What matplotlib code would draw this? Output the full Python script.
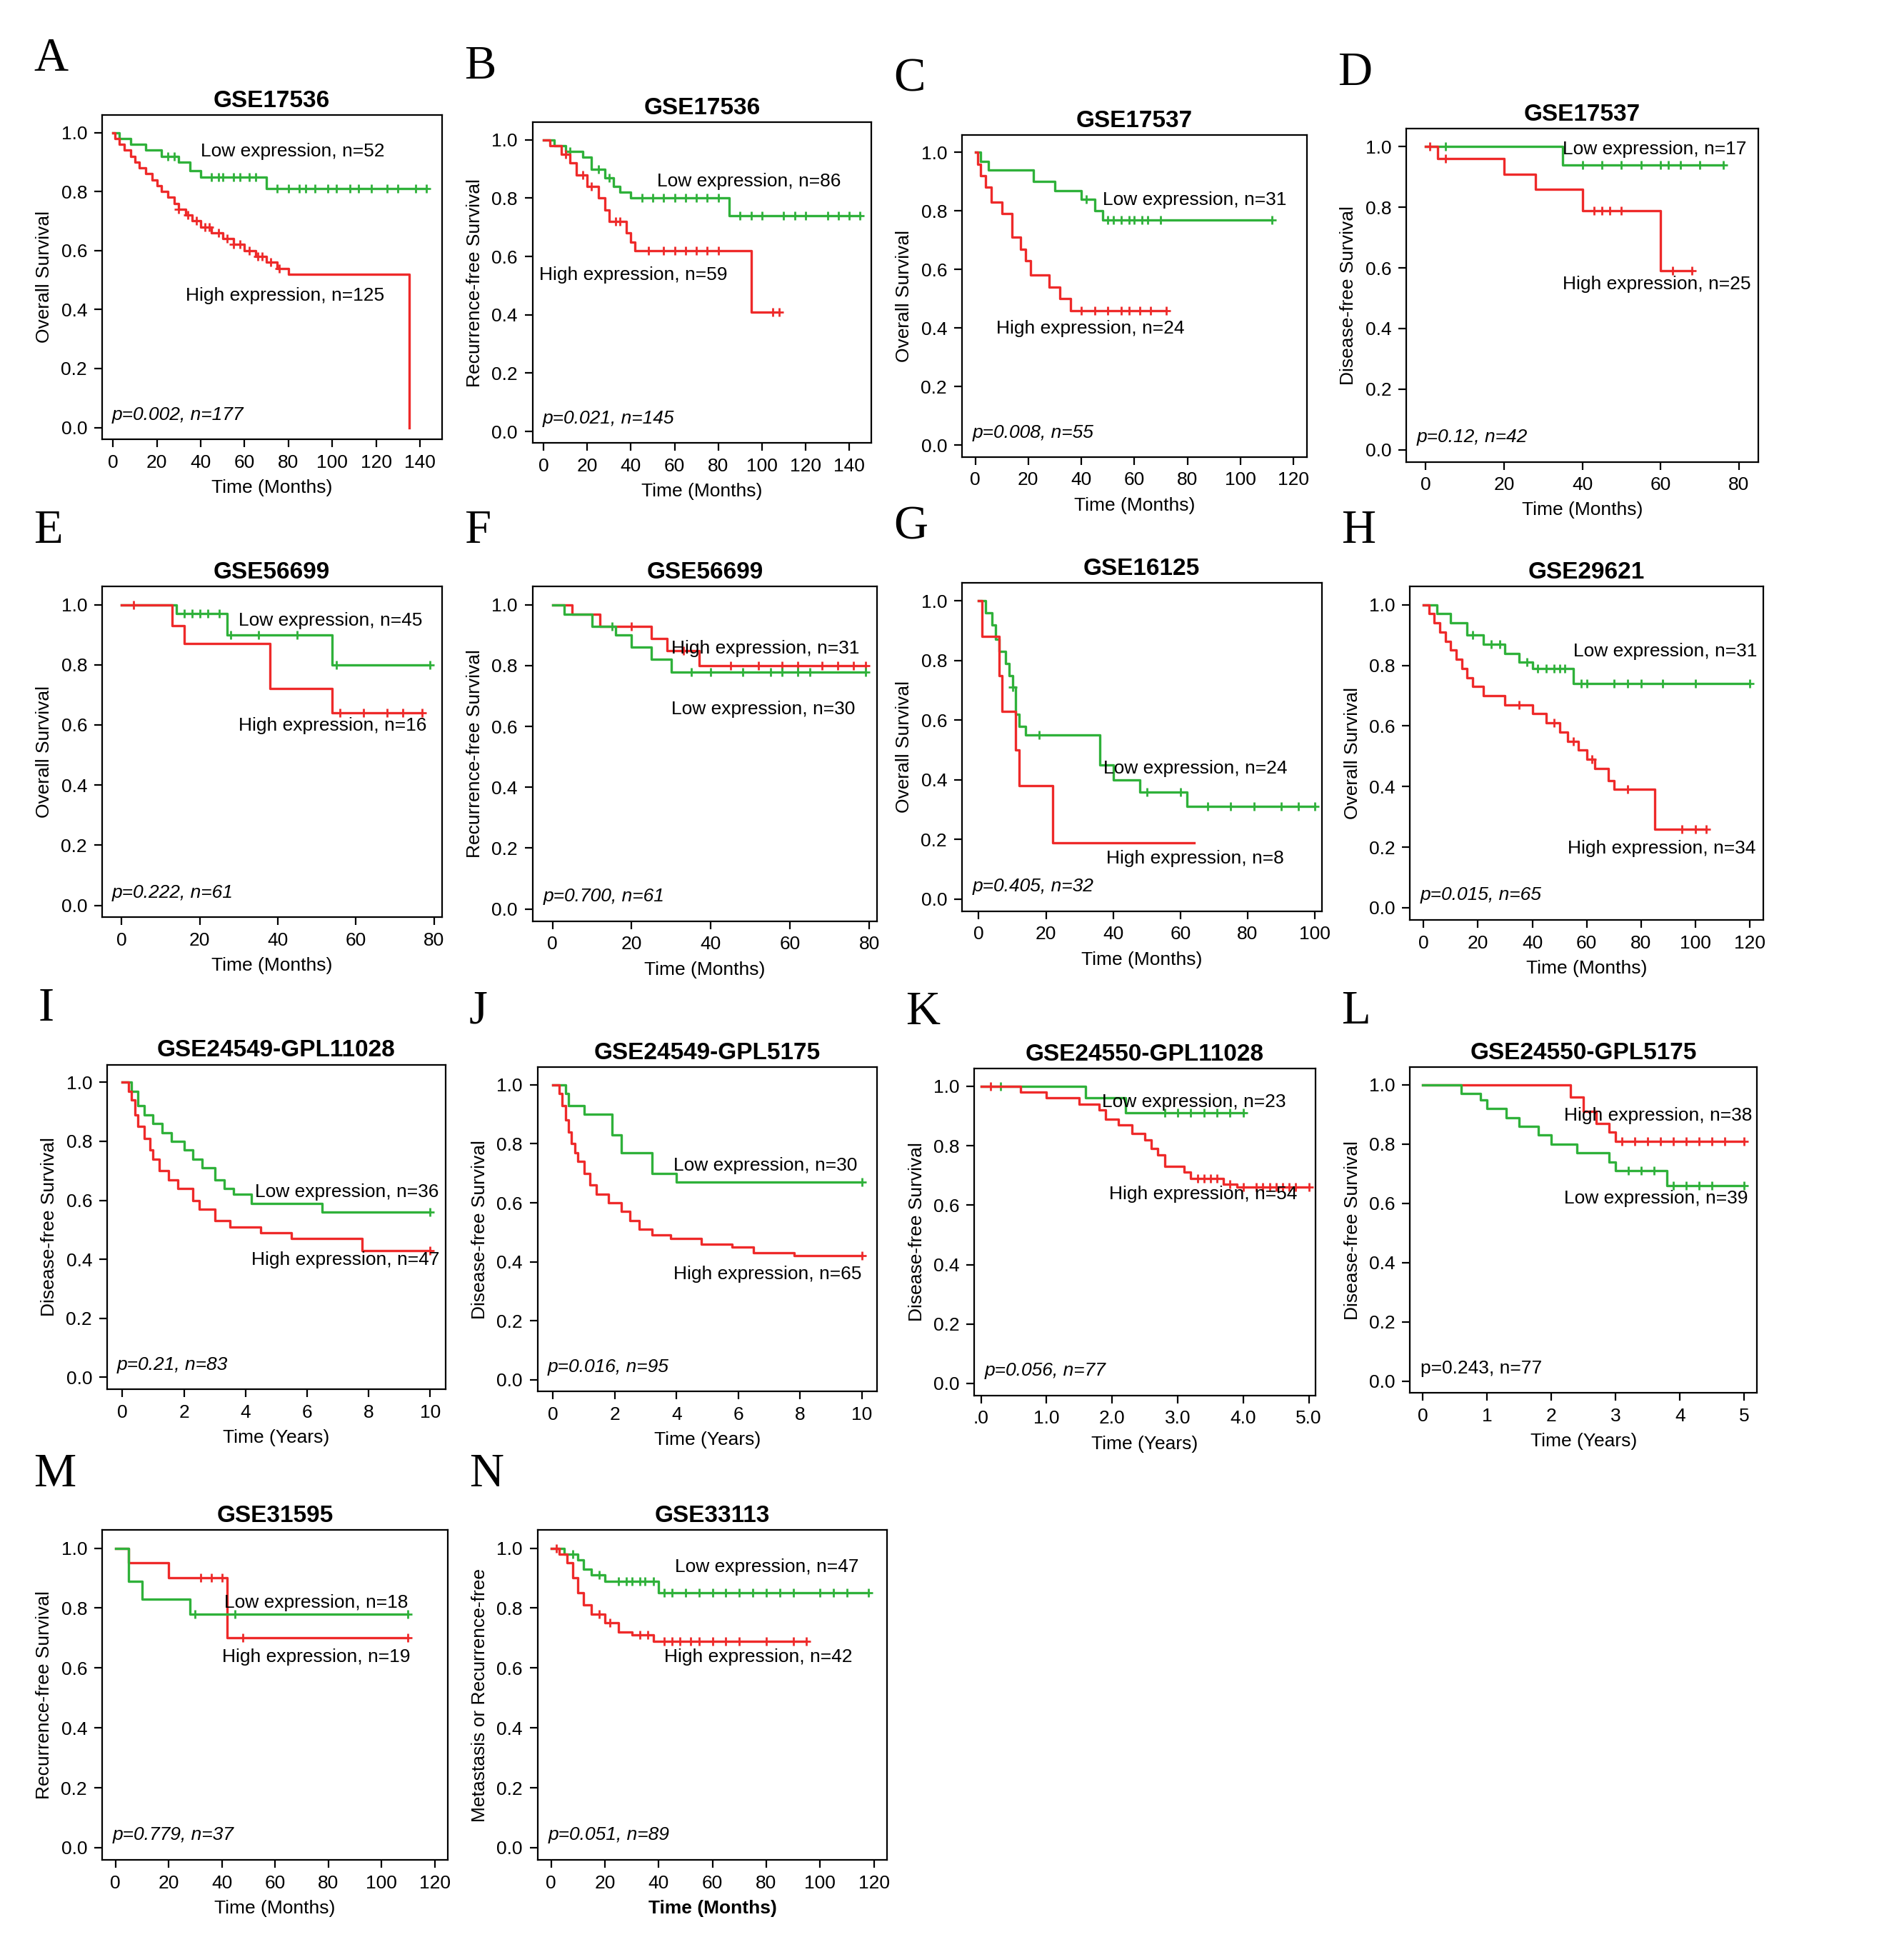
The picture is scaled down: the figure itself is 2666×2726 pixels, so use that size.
import numpy as np
import matplotlib
matplotlib.use('Agg')
from matplotlib import pyplot as plt

plt.rcParams['font.family'] = ['Liberation Sans', 'DejaVu Sans']

GREEN = '#2fb13a'
RED = '#ee2a2a'
W, H = 1530., 1560.

# each panel: letter, title, box (display px), xlim, xticks, xlabel, ylabel, ptext
# curves: (color, times, survival after each drop, end time, censor times, label, label xy)
panels = [
 dict(letter='A', title='GSE17536', box=(82,92,355,352), xlim=(-5,150), xticks=range(0,141,20),
      xlabel='Time (Months)', ylabel='Overall Survival', p='p=0.002, n=177',
      curves=[(GREEN,[3,8,15,22,30,35,40,70],[.98,.96,.94,.92,.9,.87,.85,.81],143,
               [25,28,45,48,50,55,58,62,65,75,80,85,88,92,98,102,108,112,118,125,130,138,143],'Low expression, n=52',(40,.92)),
              (RED,[1,3,5,8,10,12,15,18,20,22,25,28,30,33,36,40,45,50,55,60,65,70,75,80,135],
               [.98,.96,.94,.92,.9,.88,.86,.84,.82,.8,.78,.76,.74,.72,.7,.68,.66,.64,.62,.6,.58,.56,.54,.52,0],135,
               [30,34,38,42,44,48,52,55,58,62,66,68,72,76],'High expression, n=125',(33,.43))]),
 dict(letter='B', title='GSE17536', box=(428,98,700,355), xlim=(-5,150), xticks=range(0,141,20),
      xlabel='Time (Months)', ylabel='Recurrence-free Survival', p='p=0.021, n=145',
      curves=[(GREEN,[5,10,18,22,28,32,35,40,85],[.98,.96,.94,.9,.87,.84,.82,.8,.74],145,
               [12,25,30,45,50,55,60,65,70,75,80,90,95,100,110,115,120,130,135,140,145],'Low expression, n=86',(52,.84)),
              (RED,[3,8,12,15,20,25,28,30,38,40,42,95],[.98,.95,.92,.88,.84,.8,.76,.72,.68,.65,.62,.41],108,
               [10,18,22,33,35,48,55,60,65,70,75,80,105,108],'High expression, n=59',(-2,.52))]),
 dict(letter='C', title='GSE17537', box=(773,108,1050,366), xlim=(-5,125), xticks=range(0,121,20),
      xlabel='Time (Months)', ylabel='Overall Survival', p='p=0.008, n=55',
      curves=[(GREEN,[2,5,22,30,40,45,48],[.97,.94,.9,.87,.84,.8,.77],112,
               [42,50,52,55,58,60,63,65,70,112],'Low expression, n=31',(48,.82)),
              (RED,[1,2,4,6,10,14,17,19,21,28,32,36],[.96,.92,.88,.83,.79,.71,.67,.63,.58,.54,.5,.46],72,
               [40,45,50,55,58,62,66,72],'High expression, n=24',(8,.38))]),
 dict(letter='D', title='GSE17537', box=(1130,103,1413,370), xlim=(-5,85), xticks=range(0,81,20),
      xlabel='Time (Months)', ylabel='Disease-free Survival', p='p=0.12, n=42',
      curves=[(GREEN,[35],[.94],76,[5,40,45,50,55,60,62,65,70,76],'Low expression, n=17',(35,.975)),
              (RED,[3,20,28,40,60],[.96,.91,.86,.79,.59],68,[1,5,43,45,47,50,63,68],'High expression, n=25',(35,.53))]),
 dict(letter='E', title='GSE56699', box=(82,470,355,735), xlim=(-5,82), xticks=range(0,81,20),
      xlabel='Time (Months)', ylabel='Overall Survival', p='p=0.222, n=61',
      curves=[(GREEN,[14,27,54],[.97,.9,.8],79,[16,18,20,22,25,28,35,45,55,79],'Low expression, n=45',(30,.93)),
              (RED,[13,16,38,54],[.93,.87,.72,.64],77,[3,56,62,68,72,77],'High expression, n=16',(30,.58))]),
 dict(letter='F', title='GSE56699', box=(428,470,705,738), xlim=(-5,82), xticks=range(0,81,20),
      xlabel='Time (Months)', ylabel='Recurrence-free Survival', p='p=0.700, n=61',
      curves=[(RED,[5,12,25,29,37],[.97,.93,.89,.85,.8],79,[20,33,45,52,58,62,68,72,76,79],'High expression, n=31',(30,.84)),
              (GREEN,[3,10,16,20,25,30],[.97,.93,.9,.86,.82,.78],79,[15,35,40,48,55,58,62,65,79],'Low expression, n=30',(30,.64))]),
 dict(letter='G', title='GSE16125', box=(773,467,1062,730), xlim=(-5,102), xticks=range(0,101,20),
      xlabel='Time (Months)', ylabel='Overall Survival', p='p=0.405, n=32',
      curves=[(GREEN,[2,4,5,6,8,9,10,11,12,14,36,40,48,62],
               [.96,.92,.87,.83,.79,.75,.71,.62,.58,.55,.45,.4,.36,.31],100,[10,18,50,60,68,75,82,90,95,100],'Low expression, n=24',(37,.42)),
              (RED,[1,6,7,11,12,22],[.88,.75,.63,.5,.38,.19],64,[],'High expression, n=8',(38,.12))]),
 dict(letter='H', title='GSE29621', box=(1133,470,1417,737), xlim=(-5,125), xticks=range(0,121,20),
      xlabel='Time (Months)', ylabel='Overall Survival', p='p=0.015, n=65',
      curves=[(GREEN,[5,10,16,22,30,35,40,55],[.97,.94,.9,.87,.84,.81,.79,.74],120,
               [18,25,28,38,42,45,48,50,52,58,60,70,75,80,88,100,120],'Low expression, n=31',(55,.83)),
              (RED,[2,4,6,8,10,12,14,16,18,22,30,40,45,50,53,57,60,63,68,70,85],
               [.97,.94,.91,.88,.85,.82,.79,.76,.73,.7,.67,.64,.61,.58,.55,.52,.49,.46,.42,.39,.26],104,
               [35,48,55,62,75,95,100,104],'High expression, n=34',(53,.18))]),
 dict(letter='I', title='GSE24549-GPL11028', box=(86,853,358,1113), xlim=(-0.5,10.5), xticks=range(0,11,2),
      xlabel='Time (Years)', ylabel='Disease-free Survival', p='p=0.21, n=83',
      curves=[(GREEN,[.3,.5,.7,1,1.3,1.6,2,2.3,2.6,3,3.3,3.6,4.2,6.5],
               [.97,.92,.89,.86,.83,.8,.77,.74,.71,.67,.64,.62,.59,.56],10,[10],'Low expression, n=36',(4.3,.61)),
              (RED,[.2,.3,.4,.5,.7,.9,1,1.2,1.5,1.8,2.3,2.5,3,3.5,4.5,5.5,7.8],
               [.97,.94,.89,.85,.81,.77,.74,.7,.67,.64,.6,.57,.53,.51,.49,.47,.43],10,[10],'High expression, n=47',(4.2,.38))]),
 dict(letter='J', title='GSE24549-GPL5175', box=(432,855,705,1115), xlim=(-0.5,10.5), xticks=range(0,11,2),
      xlabel='Time (Years)', ylabel='Disease-free Survival', p='p=0.016, n=95',
      curves=[(GREEN,[.4,.5,1,1.9,2.2,3.2,4],[.97,.93,.9,.83,.77,.7,.67],10,[10],'Low expression, n=30',(3.9,.71)),
              (RED,[.2,.3,.4,.5,.6,.7,.8,1,1.2,1.4,1.8,2.2,2.5,2.8,3.2,3.8,4.8,5.8,6.5,7.8],
               [.97,.93,.88,.84,.8,.77,.74,.7,.66,.63,.6,.57,.54,.51,.49,.48,.46,.45,.43,.42],10,[10],'High expression, n=65',(3.9,.34))]),
 dict(letter='K', title='GSE24550-GPL11028', box=(783,856,1057,1118), xlim=(-0.1,5.1), xticks=range(0,6),
      xticklabels=['.0','1.0','2.0','3.0','4.0','5.0'],
      xlabel='Time (Years)', ylabel='Disease-free Survival', p='p=0.056, n=77',
      curves=[(GREEN,[1.6,2.2],[.96,.91],4.0,[.3,2.8,3.0,3.2,3.4,3.6,3.8,4.0],'Low expression, n=23',(1.85,.93)),
              (RED,[.6,1,1.5,1.8,1.9,2.1,2.3,2.5,2.6,2.7,2.8,3.1,3.2,3.7,3.9],
               [.98,.96,.94,.92,.89,.87,.84,.82,.79,.77,.73,.71,.69,.67,.66],5.0,
               [.15,3.3,3.4,3.5,3.6,3.8,4.0,4.2,4.3,4.4,4.5,4.6,4.7,4.8,5.0],'High expression, n=54',(1.95,.62))]),
 dict(letter='L', title='GSE24550-GPL5175', box=(1133,855,1412,1116), xlim=(-0.2,5.2), xticks=range(0,6),
      xlabel='Time (Years)', ylabel='Disease-free Survival', p='p=0.243, n=77', pnormal=True,
      curves=[(RED,[2.3,2.5,2.7,2.9,3],[.96,.91,.87,.84,.81],5,[3.1,3.3,3.5,3.7,3.9,4.1,4.3,4.5,4.7,5],'High expression, n=38',(2.2,.88)),
              (GREEN,[.6,.9,1,1.3,1.5,1.8,2,2.4,2.9,3,3.8],[.97,.95,.92,.89,.86,.83,.8,.77,.74,.71,.66],5,
               [3.2,3.4,3.6,3.9,4.1,4.3,4.5,5],'Low expression, n=39',(2.2,.6))]),
 dict(letter='M', title='GSE31595', box=(82,1226,360,1490), xlim=(-5,125), xticks=range(0,121,20),
      xlabel='Time (Months)', ylabel='Recurrence-free Survival', p='p=0.779, n=37',
      curves=[(RED,[5,20,42],[.95,.9,.7],110,[32,36,40,48,110],'High expression, n=19',(40,.62)),
              (GREEN,[5,10,28],[.89,.83,.78],110,[30,45,110],'Low expression, n=18',(41,.8))]),
 dict(letter='N', title='GSE33113', box=(432,1226,713,1490), xlim=(-5,125), xticks=range(0,121,20),
      xlabel='Time (Months)', ylabel='Metastasis or Recurrence-free', p='p=0.051, n=89', boldx=True,
      curves=[(GREEN,[5,10,12,15,20,40],[.98,.96,.93,.91,.89,.85],118,
               [8,18,25,28,30,33,35,38,42,45,50,55,60,65,70,75,80,85,90,100,105,110,118],'Low expression, n=47',(46,.92)),
              (RED,[3,6,8,10,12,15,20,25,30,38],[.98,.95,.9,.85,.81,.78,.75,.72,.71,.69],95,
               [2,18,22,33,36,42,45,48,52,55,60,65,70,80,90,95],'High expression, n=42',(42,.62))]),
]

fig = plt.figure(figsize=(2666/200, 2726/200), dpi=200)

for pn in panels:
    x0, y0, x1, y1 = pn['box']
    ax = fig.add_axes([x0/W, 1-y1/H, (x1-x0)/W, (y1-y0)/H])
    for color, t, s, tend, cens, lab, lxy in pn['curves']:
        tt = [0] + list(t)
        ss = [1.0] + list(s)
        xs = tt + [tend]
        ys = ss + [ss[-1]]
        ax.step(xs, ys, where='post', color=color, lw=1.2)
        c = np.array(cens, dtype=float)
        cy = np.array(ss)[np.searchsorted(tt, c, side='right') - 1]
        ax.plot(c, cy, '+', color=color, ms=4, mew=1)
        ax.text(lxy[0], lxy[1], lab, fontsize=9.5)
    ax.set_xlim(*pn['xlim'])
    ax.set_ylim(-0.04, 1.06)
    ax.set_xticks(list(pn['xticks']))
    if 'xticklabels' in pn:
        ax.set_xticklabels(pn['xticklabels'])
    ax.set_yticks(np.arange(0, 1.01, 0.2))
    ax.set_yticklabels(['%.1f' % v for v in np.arange(0, 1.01, 0.2)])
    ax.tick_params(labelsize=9.5, length=4, width=0.8)
    for sp in ax.spines.values():
        sp.set_linewidth(0.8)
    ax.set_xlabel(pn['xlabel'], fontsize=9.5, fontweight='bold' if pn.get('boldx') else 'normal')
    ax.set_ylabel(pn['ylabel'], fontsize=9.5)
    ax.set_title(pn['title'], fontsize=12, fontweight='bold', pad=4)
    ax.text(0.03, 0.06, pn['p'], transform=ax.transAxes, fontsize=9.5,
            style='normal' if pn.get('pnormal') else 'italic')
    fig.text((x0-55)/W, 1-(y0-62)/H, pn['letter'], fontsize=24, family='Liberation Serif', va='top')

fig.savefig('out.png', dpi=200, facecolor='white')
